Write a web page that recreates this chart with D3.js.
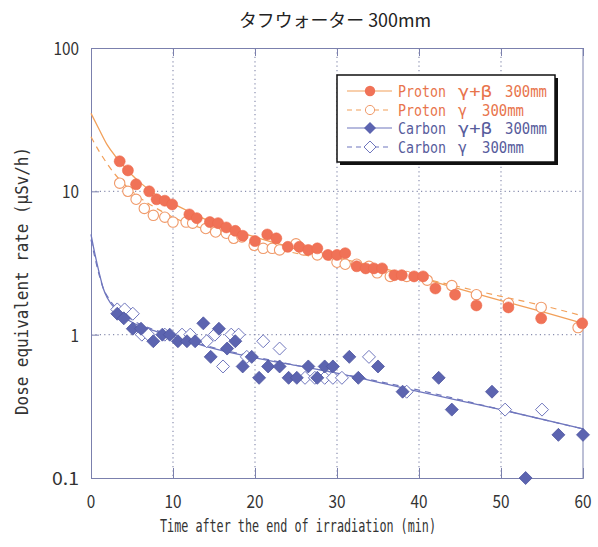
<!DOCTYPE html>
<html><head><meta charset="utf-8">
<script src="https://cdn.jsdelivr.net/npm/d3@7"></script>
<style>body{margin:0;background:#fff}svg{display:block}</style>
</head><body>
<script>
const title = "タフウォーター 300mm";
const xLabel = "Time after the end of irradiation (min)";
const yLabel = "Dose equivalent rate (μSv/h)";
const xTicks = [0,10,20,30,40,50,60];
const yTicks = [0.1,1,10,100];
const yTickLabels = ["0.1","1","10","100"];

const protonGB_t = [3.5,4.5,5.5,7.1,8.0,9.0,9.9,12.0,12.9,14.5,15.5,16.5,17.6,18.5,20.0,21.5,22.6,24.0,25.4,26.5,27.6,28.9,30.0,31.0,32.4,33.5,34.5,35.5,37.0,37.9,39.4,40.5,42.0,44.4,47.0,50.9,54.9,59.9];
const protonGB_v = [16.2,14.0,11.2,10.0,8.8,8.6,8.1,6.9,6.5,6.1,6.0,5.6,5.3,4.9,4.5,5.0,4.7,4.1,4.1,3.9,4.0,3.6,3.6,3.7,3.0,2.9,2.9,2.9,2.6,2.6,2.55,2.55,2.1,1.9,1.6,1.55,1.3,1.2];
const protonG_t = [3.5,4.5,5.5,6.5,7.6,9.0,10.0,11.6,12.4,14.0,15.2,16.5,17.4,18.4,19.9,21.0,22.1,23.0,25.0,25.9,27.6,30.0,31.0,32.4,33.9,34.9,36.5,38.5,41.0,44.0,47.0,50.9,54.9,59.4];
const protonG_v = [11.4,10.0,8.8,7.6,6.8,6.6,6.1,6.1,6.0,5.5,5.2,5.1,4.7,4.8,4.2,4.0,4.0,3.9,4.3,3.9,3.6,3.2,3.1,3.1,3.0,2.7,2.55,2.55,2.4,2.2,1.9,1.65,1.55,1.12];
const carbonGB_t = [3.2,4.0,5.1,6.1,7.6,8.7,9.6,10.6,11.7,12.7,13.7,14.6,15.6,16.6,17.6,18.5,19.6,20.5,21.6,23.0,24.1,25.1,26.5,27.6,28.5,29.5,31.5,32.6,35.0,38.0,42.4,44.0,48.9,53.0,57.0,60.0];
const carbonGB_v = [1.4,1.3,1.1,1.1,0.9,1.0,1.0,0.9,0.9,0.9,1.2,0.7,1.1,0.8,0.9,0.6,0.7,0.5,0.6,0.6,0.5,0.5,0.6,0.5,0.6,0.6,0.7,0.5,0.6,0.4,0.5,0.3,0.4,0.1,0.2,0.2];
const carbonG_t = [3.2,4.1,5.1,6.2,7.0,9.0,11.1,12.1,14.1,15.1,16.1,17.1,18.0,19.0,21.0,23.0,26.1,27.3,28.5,29.5,30.6,33.9,38.5,50.5,55.0];
const carbonG_v = [1.5,1.5,1.4,1.0,1.0,1.0,1.0,1.0,0.9,1.0,0.6,1.0,1.0,0.7,0.9,0.8,0.5,0.5,0.5,0.5,0.5,0.7,0.4,0.3,0.3];

// fitted curves
const fitProtonGB_t = [0,1,2,3,4,5,6,8,10,12,15,20,25,30,35,40,45,50,55,60];
const fitProtonGB_v = [35,27,21,17.5,15,13,11.5,9.4,8.2,7.2,6.0,4.8,4.0,3.45,2.95,2.5,2.08,1.73,1.45,1.2];
const fitProtonG_t = [0,1,2,3,4,5,6,8,10,15,20,25,30,35,40,45,50,55,60];
const fitProtonG_v = [24,19,15.5,13,11.3,10,9,7.6,6.6,5.2,4.3,3.7,3.25,2.85,2.5,2.15,1.85,1.6,1.35];
const fitCarbonGB_t = [0,0.5,1,1.5,2,3,4,5,6,8,10,15,20,25,30,40,50,60];
const fitCarbonGB_v = [5.0,3.6,2.7,2.1,1.8,1.5,1.33,1.22,1.15,1.05,0.97,0.8,0.69,0.61,0.54,0.40,0.30,0.22];
const fitCarbonG_t = [0,0.5,1,1.5,2,3,4,5,6,8,10,15,20,25,30,40,50,60];
const fitCarbonG_v = [4.6,3.4,2.6,2.1,1.85,1.55,1.38,1.27,1.18,1.07,0.98,0.81,0.70,0.61,0.54,0.41,0.30,0.22];

const legendLabels = [["Proton","γ+β","300mm"],["Proton","γ","300mm"],["Carbon","γ+β","300mm"],["Carbon","γ","300mm"]];

const W = 598, H = 547;
const M = {left: 91, right: 583, top: 48, bottom: 478};
const svg = d3.select("body").append("svg").attr("width", W).attr("height", H);

const x = d3.scaleLinear().domain([0,60]).range([M.left, M.right]);
const y = d3.scaleLog().domain([0.1,100]).range([M.bottom, M.top]);

const axisCol = "#7b80ad";
const gridCol = "#8a8fb0";
const orangeFill = "#f07257";
const orangeLine = "#f2a05a";
const orangeOpen = "#f09a6a";
const blueFill = "#5c64b0";
const blueLine = "#6f76bd";
const mono = "'DejaVu Sans Mono', 'Liberation Mono', monospace";
const lightFont = "'Noto Sans CJK JP', 'Noto Sans', sans-serif";

// grid
const gx = svg.append("g");
gx.selectAll("line.vg").data(xTicks.slice(1,-1)).join("line")
  .attr("x1", d=>x(d)).attr("x2", d=>x(d)).attr("y1", M.top).attr("y2", M.bottom)
  .attr("stroke", gridCol).attr("stroke-width", 1.2).attr("stroke-dasharray", "1.2,3.2");
gx.selectAll("line.hg").data([1,10]).join("line")
  .attr("x1", M.left).attr("x2", M.right).attr("y1", d=>y(d)).attr("y2", d=>y(d))
  .attr("stroke", gridCol).attr("stroke-width", 1.2).attr("stroke-dasharray", "1.2,3.2");

// axes via d3 axis with inward ticks
const xAxisB = d3.axisBottom(x).tickValues(xTicks).tickSize(-10).tickFormat("");
const xAxisT = d3.axisTop(x).tickValues(xTicks).tickSize(-8).tickFormat("");
const yAxisL = d3.axisLeft(y).tickValues(yTicks).tickSize(-8).tickFormat("");
function styleAxis(g){ g.selectAll("path,line").attr("stroke", axisCol).attr("stroke-width",1); }
svg.append("g").attr("transform",`translate(0,${M.bottom})`).call(xAxisB).call(styleAxis);
svg.append("g").attr("transform",`translate(0,${M.top})`).call(xAxisT).call(styleAxis);
svg.append("g").attr("transform",`translate(${M.left},0)`).call(yAxisL).call(styleAxis);
svg.append("line").attr("x1",M.right).attr("x2",M.right).attr("y1",M.top).attr("y2",M.bottom).attr("stroke",axisCol);

// tick labels
svg.append("g").selectAll("text").data(xTicks).join("text")
  .attr("x", d=>x(d)).attr("y", 508).attr("text-anchor","middle")
  .attr("font-family", lightFont).attr("font-size", 18).attr("fill","#333")
  .attr("textLength", d=>String(d).length*8.5).attr("lengthAdjust","spacingAndGlyphs")
  .text(d=>d);
svg.append("g").selectAll("text").data(yTicks).join("text")
  .attr("x", 79).attr("y", d=>y(d)+7).attr("text-anchor","end")
  .attr("font-family", lightFont).attr("font-size", 18).attr("fill","#333")
  .attr("textLength", (d,i)=>yTickLabels[i]==="0.1"?27:yTickLabels[i].length*8.5).attr("lengthAdjust","spacingAndGlyphs")
  .text((d,i)=>yTickLabels[i]);

// titles
svg.append("text").attr("x", 335).attr("y", 27).attr("text-anchor","middle")
  .attr("font-family",lightFont).attr("font-size",18).attr("fill","#222")
  .attr("textLength",192).attr("lengthAdjust","spacingAndGlyphs").text(title);
svg.append("text").attr("x", 298).attr("y", 532).attr("text-anchor","middle")
  .attr("font-family", mono).attr("font-size",17).attr("fill","#333")
  .attr("textLength",276).attr("lengthAdjust","spacingAndGlyphs").text(xLabel);
svg.append("text").attr("transform","translate(28,281) rotate(-90)").attr("text-anchor","middle")
  .attr("font-family", mono).attr("font-size",17).attr("fill","#333")
  .attr("textLength",268).attr("lengthAdjust","spacingAndGlyphs").text(yLabel);

// fit lines
const line = d3.line().x(d=>x(d[0])).y(d=>y(d[1])).curve(d3.curveMonotoneX);
const zip = (a,b)=>a.map((t,i)=>[t,b[i]]);
const plot = svg.append("g");
plot.append("path").datum(zip(fitProtonG_t,fitProtonG_v)).attr("d",line).attr("fill","none")
  .attr("stroke",orangeLine).attr("stroke-width",1.2).attr("stroke-dasharray","6,5");
plot.append("path").datum(zip(fitProtonGB_t,fitProtonGB_v)).attr("d",line).attr("fill","none")
  .attr("stroke",orangeLine).attr("stroke-width",1.3);
plot.append("path").datum(zip(fitCarbonG_t,fitCarbonG_v)).attr("d",line).attr("fill","none")
  .attr("stroke",blueLine).attr("stroke-width",1.2).attr("stroke-dasharray","6,5");
plot.append("path").datum(zip(fitCarbonGB_t,fitCarbonGB_v)).attr("d",line).attr("fill","none")
  .attr("stroke",blueLine).attr("stroke-width",1.3);

// markers
const diamond = s => `M0,${-s}L${s},0L0,${s}L${-s},0Z`;
plot.append("g").selectAll("path").data(zip(carbonG_t,carbonG_v)).join("path")
  .attr("transform", d=>`translate(${x(d[0])},${y(d[1])})`).attr("d", diamond(6.5))
  .attr("fill","#fff").attr("stroke",blueLine).attr("stroke-width",1);
plot.append("g").selectAll("path").data(zip(carbonGB_t,carbonGB_v)).join("path")
  .attr("transform", d=>`translate(${x(d[0])},${y(d[1])})`).attr("d", diamond(6.5))
  .attr("fill",blueFill).attr("stroke","#4e55a0").attr("stroke-width",0.8);
plot.append("g").selectAll("circle").data(zip(protonG_t,protonG_v)).join("circle")
  .attr("cx", d=>x(d[0])).attr("cy", d=>y(d[1])).attr("r",5.2)
  .attr("fill","#fff").attr("stroke",orangeOpen).attr("stroke-width",1.1);
plot.append("g").selectAll("circle").data(zip(protonGB_t,protonGB_v)).join("circle")
  .attr("cx", d=>x(d[0])).attr("cy", d=>y(d[1])).attr("r",5.5)
  .attr("fill",orangeFill).attr("stroke","#ee6a4c").attr("stroke-width",0.6);

// legend
const lg = svg.append("g");
lg.append("rect").attr("x",340).attr("y",78).attr("width",218).attr("height",87).attr("fill","#111");
lg.append("rect").attr("x",337).attr("y",75).attr("width",218).attr("height",87).attr("fill","#fff")
  .attr("stroke","#111").attr("stroke-width",1.5);
const rowY = [91,110,128,147];
const rowCol = [orangeLine, orangeLine, blueLine, blueLine];
const textCol = ["#e8744c","#e8744c","#575c9c","#575c9c"];
rowY.forEach((ry,i)=>{
  lg.append("line").attr("x1",347).attr("x2",392).attr("y1",ry).attr("y2",ry)
    .attr("stroke",rowCol[i]).attr("stroke-width",1.1).attr("stroke-dasharray", i%2? "5,4":null);
  if(i===0) lg.append("circle").attr("cx",370).attr("cy",ry).attr("r",5.2).attr("fill",orangeFill);
  if(i===1) lg.append("circle").attr("cx",370).attr("cy",ry).attr("r",4.6).attr("fill","#fff").attr("stroke",orangeOpen);
  if(i===2) lg.append("path").attr("transform",`translate(370,${ry})`).attr("d",diamond(6)).attr("fill",blueFill);
  if(i===3) lg.append("path").attr("transform",`translate(370,${ry})`).attr("d",diamond(6)).attr("fill","#fff").attr("stroke",blueLine);
  const lab = legendLabels[i];
  const parts = [[lab[0],398,48],[lab[1],458,lab[1].length>1?34:9],[lab[2], lab[1].length>1?505:482, 42]];
  parts.forEach(p=>{
    lg.append("text").attr("x",p[1]).attr("y",ry+5.5).attr("font-family",mono).attr("font-size",15)
      .attr("fill",textCol[i]).attr("textLength",p[2]).attr("lengthAdjust","spacingAndGlyphs").text(p[0]);
  });
});
</script>
</body></html>
